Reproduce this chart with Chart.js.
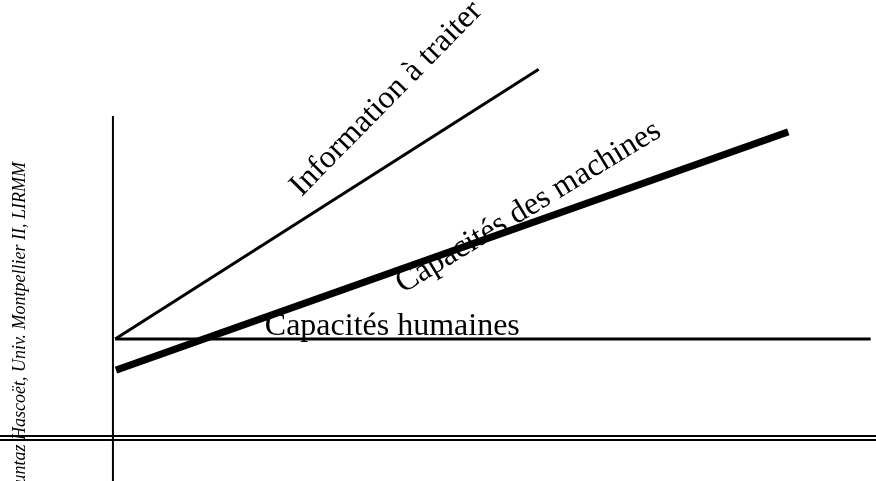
<!DOCTYPE html>
<html>
<head>
<meta charset="utf-8">
<script src="https://cdn.jsdelivr.net/npm/chart.js@4/dist/chart.umd.min.js"></script>
<style>
  html, body { margin: 0; padding: 0; background: #ffffff; }
  #chart { display: block; }
</style>
</head>
<body>
<canvas id="chart" width="876" height="481"></canvas>
<script>
'use strict';

/*********** DATA ***********/
// x: time (arbitrary units), y: quantity (arbitrary units)
var humanX = [0.03, 9.93];
var humanY = [2.26, 2.26];
var infoX = [0.03, 5.58];
var infoY = [2.26, 8.42];
var machineX = [0.04, 8.85];
var machineY = [1.55, 6.99];
var axisX = [-1.48, 10];
var axisYTop = 7.35;
var axisYBottom = -0.98;

var labelTexts = ['Information à traiter', 'Capacités des machines', 'Capacités humaines'];
var creditText = 'Mountaz Hascoët, Univ. Montpellier II, LIRMM';

/*********** LAYOUT ***********/
var xMin = -1.48, xMax = 10;
var yMin = -0.98, yMax = 10;
// label anchor (data units) and rotation (degrees)
var labelPos = [[2.47, 5.50, -45.5], [3.80, 3.30, -31.3], [1.99, 2.35, 0]];

function pts(xs, ys) {
  var out = [];
  for (var i = 0; i < xs.length; i++) {
    out.push({x: xs[i], y: ys[i]});
  }
  return out;
}

function lineSet(data, width, color) {
  return {
    data: data,
    showLine: true,
    borderColor: color || '#000000',
    borderWidth: width,
    borderCapStyle: 'butt',
    pointRadius: 0,
    fill: false
  };
}

// text labels and the rotated credit line
var textPlugin = {
  id: 'texts',
  afterDatasetsDraw: function(chart) {
    var ctx = chart.ctx;
    var xs = chart.scales.x;
    var ys = chart.scales.y;
    ctx.save();
    ctx.fillStyle = '#000000';
    ctx.font = '32px "Liberation Serif", "Times New Roman", serif';
    ctx.textBaseline = 'alphabetic';
    ctx.textAlign = 'left';
    for (var i = 0; i < labelTexts.length; i++) {
      ctx.save();
      ctx.translate(xs.getPixelForValue(labelPos[i][0]), ys.getPixelForValue(labelPos[i][1]));
      ctx.rotate(labelPos[i][2] * Math.PI / 180);
      ctx.fillText(labelTexts[i], 0, 0);
      ctx.restore();
    }
    ctx.save();
    ctx.font = 'italic 18px "Liberation Serif", "Times New Roman", serif';
    ctx.translate(25, 162);
    ctx.rotate(-Math.PI / 2);
    ctx.textAlign = 'right';
    ctx.fillText(creditText, 0, 0);
    ctx.restore();
    ctx.restore();
  }
};

var ctx = document.getElementById('chart').getContext('2d');
// first dataset is drawn on top
new Chart(ctx, {
  type: 'scatter',
  data: {
    datasets: [
      lineSet(pts([0, 0], [axisYBottom, axisYTop]), 2),
      // horizontal axis drawn as a double rule
      lineSet(pts(axisX, [0, 0]), 2, '#ffffff'),
      lineSet(pts(axisX, [0, 0]), 6),
      lineSet(pts(humanX, humanY), 3),
      lineSet(pts(infoX, infoY), 3),
      lineSet(pts(machineX, machineY), 7)
    ]
  },
  options: {
    responsive: false,
    animation: false,
    devicePixelRatio: 1,
    layout: { padding: 0 },
    plugins: { legend: { display: false }, tooltip: { enabled: false } },
    scales: {
      x: { type: 'linear', min: xMin, max: xMax, display: false },
      y: { type: 'linear', min: yMin, max: yMax, display: false }
    }
  },
  plugins: [textPlugin]
});
</script>
</body>
</html>
